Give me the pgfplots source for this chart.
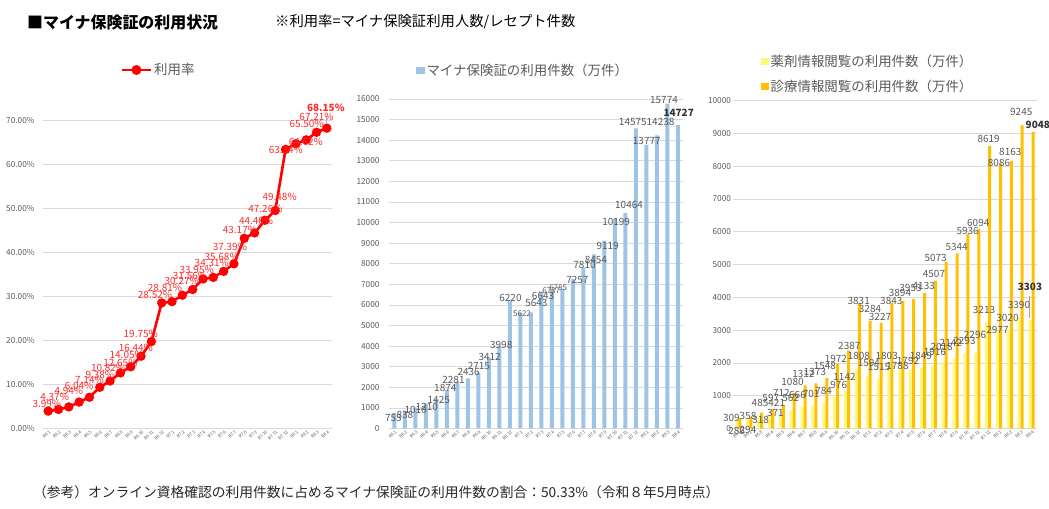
\documentclass[border=0pt]{standalone}
\usepackage{fontspec}
\setmainfont{Noto Sans CJK JP}
\usepackage{pgfplots}
\pgfplotsset{compat=1.18}
\usepackage{pgfplotstable}

\definecolor{gridc}{HTML}{D9D9D9}
\definecolor{tickc}{HTML}{595959}
\definecolor{lblc}{HTML}{595959}
\definecolor{redl}{HTML}{FF0000}
\definecolor{redt}{HTML}{FF2B2B}
\definecolor{blue1}{HTML}{9DC3E6}
\definecolor{goldc}{HTML}{FFC000}
\definecolor{lyel}{HTML}{FFF77A}

\newcommand{\lbl}{\fontsize{10}{12}\selectfont}
\newcommand{\lbls}{\fontsize{8}{10}\selectfont}

% rate: i value labelx labely
\pgfplotstableread{
i v lx ly
0 3.99 -0.13 5.53
1 4.37 0.63 7.25
2 4.94 2 8.57
3 6.04 3 9.74
4 7.14 4 11.04
5 9.38 5 12.17
6 10.82 5.81 13.70
7 12.65 7 14.83
8 14.05 7.61 16.70
9 16.44 8.5 18.23
10 19.75 8.97 21.47
11 28.52 10.35 30.31
12 28.81 11.32 31.96
13 30.27 12.94 33.49
14 31.56 13.74 34.69
15 33.95 14.39 35.99
16 34.31 15.85 37.51
17 35.68 16.81 39.01
18 37.39 17.61 41.27
19 43.17 18.58 45.05
20 44.40 20.15 47.10
21 47.26 21.05 49.75
22 49.48 22.43 52.61
23 63.34 23.03 63.34
24 64.62 24.97 65.01
25 65.50 25.04 69.24
26 67.21 26 70.75
27 68.15 26.9 72.80
}\ratetab

\pgfplotstableread{
i v lx ly
0 753 -0.08 496
1 838 1.02 639
2 1010 2.04 898
3 1210 3.1 1060
4 1425 4.24 1381
5 1874 4.86 1981
6 2281 5.64 2354
7 2436 7.09 2756
8 2715 8.06 3050
9 3412 9.08 3485
10 3998 10.19 4051
11 6220 11.07 6351
12 5622 12.17 5593
13 5643 13.53 6080
14 6643 14.17 6449
15 6737 14.95 6689
16 6785 15.61 6833
17 7257 17.44 7209
18 7810 18.12 7936
19 8454 19.2 8178
20 9119 20.32 8857
21 10199 21.13 10039
22 10464 22.36 10847
23 14575 22.72 14866
24 13777 24.05 13971
25 14238 25.36 14864
26 15774 25.69 15949
27 14727 27.09 15348
}\midtab

% labels of the middle chart, in normal size / small size
\pgfplotstableread{
v lx ly
753 -0.08 496
838 1.02 639
1010 2.04 898
1210 3.1 1060
1425 4.24 1381
1874 4.86 1981
2281 5.64 2354
2436 7.09 2756
2715 8.06 3050
3412 9.08 3485
3998 10.19 4051
6220 11.07 6351
5643 13.53 6080
6643 14.17 6449
7257 17.44 7209
7810 18.12 7936
8454 19.2 8178
9119 20.32 8857
10199 21.13 10039
10464 22.36 10847
14575 22.72 14866
13777 24.05 13971
14238 25.36 14864
15774 25.69 15949
}\midlbl
\pgfplotstableread{
v lx ly
5622 12.17 5593
6737 14.95 6689
6785 15.61 6833
}\midlbls

\pgfplotstableread{
i v lx ly
0 309 -0.65 311
1 358 0.88 381
2 485 1.99 768
3 597 2.98 921
4 712 3.95 1091
5 1080 4.98 1427
6 1312 5.98 1652
7 1373 7.05 1713
8 1548 7.97 1915
9 1972 8.97 2119
10 2387 10.21 2524
11 3831 11.08 3896
12 3284 12.12 3634
13 3227 13.04 3409
14 3843 14.08 3896
15 3894 14.88 4122
16 3953 15.85 4274
17 4133 17.07 4345
18 4507 18.01 4710
19 5073 18.17 5189
20 5344 20.10 5543
21 5936 21.11 6021
22 6094 22.09 6256
23 8619 23.05 8826
24 8086 24.0 8116
25 8163 25.04 8439
26 9245 26.05 9659
27 9048 27.58 9253
}\goldtab

\pgfplotstableread{
i v lx ly
0 286 -0.17 -67
1 294 0.88 -46
2 318 2.05 259
3 371 3.40 463
4 421 3.53 768
5 562 4.8 939
6 666 5.44 1021
7 701 6.69 1052
8 784 7.84 1143
9 976 9.24 1326
10 1142 9.77 1579
11 1808 11.09 2210
12 1594 12.01 1988
13 1515 12.95 1884
14 1803 13.66 2210
15 1788 14.65 1905
16 1792 15.62 2067
17 1849 16.81 2210
18 1916 18.10 2323
19 2018 18.72 2494
20 2142 19.56 2616
21 2293 20.82 2677
22 2296 21.79 2851
23 3213 22.62 3613
24 2977 23.86 3003
25 3020 24.78 3360
26 3390 25.84 3765
27 3303 26.85 4323
}\lighttab

\pgfplotsset{
  /pgf/number format/assume math mode=true,
  /pgf/number format/1000 sep={},
  panel/.style={
    scale only axis, enlargelimits=false, clip=false,
    xmin=-0.5, xmax=27.5, ymin=0,
    xtick={0,...,27},
    xticklabels={R6.1,R6.2,R6.3,R6.4,R6.5,R6.6,R6.7,R6.8,R6.9,R6.10,R6.11,R6.12,R7.1,R7.2,R7.3,R7.4,R7.5,R7.6,R7.7,R7.8,R7.9,R7.10,R7.11,R7.12,R8.1,R8.2,R8.3,R8.4},
    axis line style={draw=none}, tick style={draw=none}, major tick length=0pt,
    ymajorgrids, grid style={gridc, line width=0.75bp},
    x tick label style={rotate=45, anchor=east, font=\fontsize{4.5}{5}\selectfont, text=tickc, inner sep=0.5bp, yshift=-3bp},
    y tick label style={font=\fontsize{8.3}{10}\selectfont, text=tickc},
    scaled y ticks=false,
    legend style={draw=none, fill=none, font=\fontsize{13.5}{15}\selectfont, text=tickc, inner sep=0pt},
  },
  lab/.style={draw=none, mark=none, forget plot, point meta=explicit,
    every node near coord/.append style={anchor=center, inner sep=0pt, font=\lbl, text=lblc}},
}

\begin{document}
\begin{tikzpicture}
\path[use as bounding box] (0,0) rectangle (1049bp,509bp);

\node[anchor=west, inner sep=0pt, font=\fontsize{16}{18}\selectfont\bfseries] at (27bp,487bp) {■マイナ保険証の利用状況};
\node[anchor=west, inner sep=0pt, font=\fontsize{14.4}{16}\selectfont] at (275bp,487bp) {※利用率=マイナ保険証利用人数/レセプト件数};
\node[anchor=west, inner sep=0pt, font=\fontsize{13.8}{16}\selectfont, text=black!85] at (33bp,17bp) {（参考）オンライン資格確認の利用件数に占めるマイナ保険証の利用件数の割合：50.33\%（令和８年5月時点）};

% ---------- left: rate ----------
\begin{axis}[panel,
  at={(43bp,80.3bp)}, anchor=south west, width=289bp, height=308.7bp,
  ymax=70, ytick={0,10,...,70},
  yticklabel={\pgfmathprintnumber[fixed,fixed zerofill,precision=2]{\tick}\%},
  y tick label style={xshift=-5bp},
  legend style={at={(0.40,1.162)}, anchor=center},
]
\addplot[redl, line width=2.6bp, mark=*, mark size=3.3bp, mark options={fill=redl, draw=redl},
  legend image code/.code={\draw[redl, line width=2.6bp] (0bp,0bp) -- (29bp,0bp); \fill[redl] (14.5bp,0bp) circle (3.6bp);}]
  table[x=i, y=v] {\ratetab};
\addlegendentry{利用率}
\addplot[lab, every node near coord/.append style={text=redt},
  nodes near coords={\pgfmathprintnumber[fixed,fixed zerofill,precision=2]{\pgfplotspointmeta}\%}]
  table[x=lx, y=ly, meta=v, skip coords between index={27}{28}] {\ratetab};
\addplot[lab, every node near coord/.append style={text=redt, font=\lbl\bfseries},
  nodes near coords={\pgfmathprintnumber[fixed,fixed zerofill,precision=2]{\pgfplotspointmeta}\%}]
  table[x=lx, y=ly, meta=v, skip coords between index={0}{27}] {\ratetab};
\addplot[forget plot, draw=gray!60, line width=0.5bp] coordinates {(26.95,69.3) (26.95,70.9)};
\end{axis}

% ---------- middle: usage count ----------
\begin{axis}[panel,
  at={(389bp,80.5bp)}, anchor=south west, width=294bp, height=329.5bp,
  ymax=16000, ytick={0,1000,...,16000},
  yticklabel={\pgfmathprintnumber[fixed,precision=0]{\tick}},
  y tick label style={xshift=-6bp},
  legend style={at={(0.455,1.086)}, anchor=center},
]
\addplot[ybar, bar width=4bp, bar shift=0bp, fill=blue1, draw=none,
  legend image code/.code={\fill[blue1] (0bp,-3.5bp) rectangle (9bp,4bp);}]
  table[x=i, y=v] {\midtab};
\addlegendentry{マイナ保険証の利用件数（万件）}
\addplot[lab, nodes near coords={\pgfmathprintnumber[fixed,precision=0]{\pgfplotspointmeta}}]
  table[x=lx, y=ly, meta=v] {\midlbl};
\addplot[lab, every node near coord/.append style={font=\lbls},
  nodes near coords={\pgfmathprintnumber[fixed,precision=0]{\pgfplotspointmeta}}]
  table[x=lx, y=ly, meta=v] {\midlbls};
\addplot[lab, every node near coord/.append style={font=\lbl\bfseries, text=black!80},
  nodes near coords={\pgfmathprintnumber[fixed,precision=0]{\pgfplotspointmeta}}]
  table[x=lx, y=ly, meta=v, skip coords between index={0}{27}] {\midtab};
\end{axis}

% ---------- right: drug info / medical info ----------
\begin{axis}[panel,
  at={(733bp,80.5bp)}, anchor=south west, width=304bp, height=327.8bp,
  ymax=10000, ytick={0,1000,...,10000},
  yticklabel={\pgfmathprintnumber[fixed,precision=0]{\tick}},
  y tick label style={xshift=1.5bp},
  legend style={at={(0.092,1.1455)}, anchor=north west, row sep=8bp, cells={anchor=west}},
]
\addplot[ybar, bar width=3bp, bar shift=-1.5bp, fill=lyel, draw=none,
  legend image code/.code={\fill[lyel] (0bp,-3.5bp) rectangle (7.5bp,4bp);}]
  table[x=i, y=v] {\lighttab};
\addlegendentry{薬剤情報閲覧の利用件数（万件）}
\addplot[ybar, bar width=3bp, bar shift=1.5bp, fill=goldc, draw=none,
  legend image code/.code={\fill[goldc] (0bp,-3.5bp) rectangle (7.5bp,4bp);}]
  table[x=i, y=v] {\goldtab};
\addlegendentry{診療情報閲覧の利用件数（万件）}
\addplot[forget plot, draw=gray!70, line width=0.6bp] coordinates {(26.78,3380) (26.78,4030)};
\addplot[lab, nodes near coords={\pgfmathprintnumber[fixed,precision=0]{\pgfplotspointmeta}}]
  table[x=lx, y=ly, meta=v, skip coords between index={27}{28}] {\goldtab};
\addplot[lab, nodes near coords={\pgfmathprintnumber[fixed,precision=0]{\pgfplotspointmeta}}]
  table[x=lx, y=ly, meta=v, skip coords between index={27}{28}] {\lighttab};
\addplot[lab, every node near coord/.append style={font=\lbl\bfseries, text=black!80},
  nodes near coords={\pgfmathprintnumber[fixed,precision=0]{\pgfplotspointmeta}}]
  table[x=lx, y=ly, meta=v, skip coords between index={0}{27}] {\goldtab};
\addplot[lab, every node near coord/.append style={font=\lbl\bfseries, text=black!80},
  nodes near coords={\pgfmathprintnumber[fixed,precision=0]{\pgfplotspointmeta}}]
  table[x=lx, y=ly, meta=v, skip coords between index={0}{27}] {\lighttab};
\end{axis}
\end{tikzpicture}
\end{document}
